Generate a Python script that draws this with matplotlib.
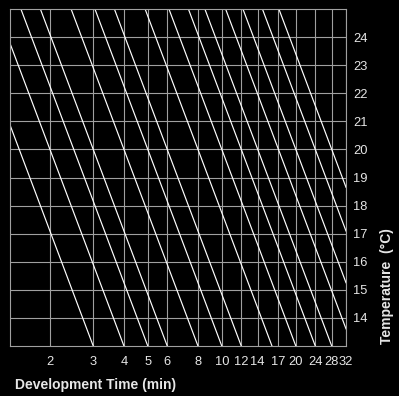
import matplotlib
matplotlib.use('agg')
import matplotlib.pyplot as plt

# development time at 20 C for each compensation line, and time at 13 C
t_at_20 = [1.5, 2, 2.5, 3, 4, 5, 6, 8, 10, 12, 14, 17, 20, 24, 28]
t_at_13 = [3, 4, 5, 6, 8, 10, 12, 16, 20, 24, 28, 34, 40, 48, 56]

x_ticks = [2, 3, 4, 5, 6, 8, 10, 12, 14, 17, 20, 24, 28, 32]
y_ticks = list(range(14, 25))

plt.rcParams['font.family'] = ['Liberation Sans', 'DejaVu Sans']

dpi = 100
fig = plt.figure(figsize=(3.99, 3.96), dpi=dpi, facecolor='black')
ax = fig.add_axes([10 / 399, 50 / 396, 336 / 399, 337 / 396])
ax.set_facecolor('black')
ax.set_xscale('log')
ax.set_xlim(1.376, 32)
ax.set_ylim(13, 25)

grid_col = '#a0a0a0'
for x in x_ticks:
    ax.axvline(x, color=grid_col, lw=0.8, zorder=1)
for y in y_ticks:
    ax.axhline(y, color=grid_col, lw=0.8, zorder=1)

for a, b in zip(t_at_20, t_at_13):
    ax.axline((a, 20), (b, 13), color='white', lw=0.85, zorder=2)

for s in ax.spines.values():
    s.set_color(grid_col)
    s.set_linewidth(0.8)

ax.set_xticks(x_ticks)
ax.set_xticklabels([str(v) for v in x_ticks])
ax.xaxis.set_minor_locator(matplotlib.ticker.NullLocator())
ax.set_yticks(y_ticks)
ax.yaxis.tick_right()
ax.tick_params(axis='both', length=0, colors='#e6e6e6', labelsize=9.3)
ax.tick_params(axis='x', pad=7)
ax.tick_params(axis='y', pad=5)

fig.text(15 / 399, 1 - 385 / 396, 'Development Time (min)', color='#e6e6e6',
         fontsize=10, fontweight='bold', ha='left', va='center')
fig.text(387 / 399, 1 - 286 / 396, 'Temperature  (\u00b0C)', color='#e6e6e6',
         fontsize=10, fontweight='bold', rotation=90, ha='center', va='center')

fig.savefig('out.png', dpi=dpi, facecolor='black')
